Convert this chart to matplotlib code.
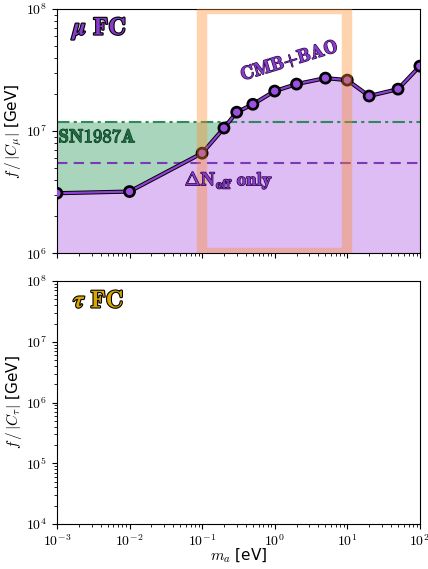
import numpy as np
import matplotlib
matplotlib.use("Agg")
import matplotlib.pyplot as plt
import matplotlib.patheffects as pe
from matplotlib.patches import Rectangle
from matplotlib.ticker import FuncFormatter, LogLocator

plt.rcParams['mathtext.fontset'] = 'cm'
plt.rcParams['font.family'] = ['DejaVu Sans']

# Axion mass grid [eV] and CMB+BAO bound on f/|C_mu| [GeV]
m_a = [1e-3, 1e-2, 0.1, 0.2, 0.3, 0.5, 1.0, 2.0, 5.0, 10.0, 20.0, 50.0, 100.0]
f_mu = [3.1e6, 3.2e6, 6.6e6, 1.06e7, 1.43e7, 1.66e7, 2.13e7, 2.43e7, 2.72e7,
        2.62e7, 1.94e7, 2.21e7, 3.41e7]

sn1987a = 1.19e7      # supernova bound
dneff_only = 5.5e6    # Delta N_eff only bound
band_lo, band_hi = 0.1, 10.0  # highlighted mass window

purple = '#9040D8'
fill_purple = '#DDBDF4'
green_line = '#2E8B57'
green_fill = '#A9D5BD'
gold = '#D9A800'

fig = plt.figure(figsize=(4.28, 5.69), dpi=100)
ax1 = fig.add_axes([0.133, 0.555, 0.848, 0.429])
ax2 = fig.add_axes([0.133, 0.079, 0.848, 0.427], sharex=ax1)

x = np.array(m_a)
y = np.array(f_mu)

# top panel: muon flavour-changing coupling
ax1.fill_between(x, 1e6, y, color=fill_purple, zorder=1, lw=0)
ax1.fill_between(x, y, sn1987a, where=y < sn1987a, interpolate=True,
                 color=green_fill, zorder=1, lw=0)
ax1.axhline(sn1987a, color=green_line, ls=(0, (6, 2, 1.5, 2)), lw=1.5, zorder=2)
ax1.axhline(dneff_only, color='#7A3AB8', ls=(0, (5, 3)), lw=1.5, zorder=2)
ax1.plot(x, y, color=purple, lw=1.6, marker='o', ms=6.2, mfc='#9C4FE0',
         mec='k', mew=0.9, zorder=3,
         path_effects=[pe.Stroke(linewidth=3.0, foreground='k'), pe.Normal()])
ax1.add_patch(Rectangle((band_lo, 1e6), band_hi - band_lo, 1e8 - 1e6,
                        fill=False, edgecolor='#FF8C2A', alpha=0.38, lw=7.5,
                        zorder=4))

stroke = [pe.withStroke(linewidth=1.6, foreground='k')]
ax1.text(0.045, 0.92, r'$\boldsymbol{\mu}\ \mathbf{FC}$', transform=ax1.transAxes,
         fontsize=17.5, color='#8A3BD0', ha='left', va='center',
         path_effects=stroke, zorder=6)
ax1.text(1.05e-3, 9.0e6, r'$\mathbf{SN1987A}$', fontsize=13.5, color='#1F6B42',
         ha='left', va='center', zorder=6,
         path_effects=[pe.withStroke(linewidth=0.8, foreground='#0B3A20')])
ax1.text(0.235, 3.95e6, r'$\mathbf{\Delta N_{eff}\ only}$', fontsize=13.5,
         color='#8A3BD0', ha='center', va='center', zorder=6,
         path_effects=[pe.withStroke(linewidth=1.0, foreground='#2A0A40')])
ax1.text(1.6, 3.8e7, r'$\mathbf{CMB{+}BAO}$', fontsize=13.5, color='#8A3BD0',
         ha='center', va='center', rotation=17, zorder=6,
         path_effects=[pe.withStroke(linewidth=1.0, foreground='#2A0A40')])

ax1.set_xscale('log')
ax1.set_yscale('log')
ax1.set_xlim(1e-3, 1e2)
ax1.set_ylim(1e6, 1e8)
ax1.set_ylabel(r'$f\,/\,|C_\mu|$ [GeV]', fontsize=11)
ax1.tick_params(labelbottom=False)

# bottom panel: tau flavour-changing coupling
ax2.set_yscale('log')
ax2.set_ylim(1e4, 1e8)
ax2.set_ylabel(r'$f\,/\,|C_\tau|$ [GeV]', fontsize=11)
ax2.set_xlabel(r'$m_a$ [eV]', fontsize=11)
ax2.text(0.045, 0.92, r'$\boldsymbol{\tau}\ \mathbf{FC}$', transform=ax2.transAxes,
         fontsize=17.5, color=gold, ha='left', va='center',
         path_effects=stroke, zorder=6)

pow_fmt = FuncFormatter(lambda v, pos: r'$10^{%d}$' % int(round(np.log10(v))))
for ax in (ax1, ax2):
    ax.xaxis.set_major_locator(LogLocator(base=10, numticks=10))
    ax.yaxis.set_major_locator(LogLocator(base=10, numticks=10))
    ax.xaxis.set_major_formatter(pow_fmt)
    ax.yaxis.set_major_formatter(pow_fmt)
    ax.tick_params(which='both', labelsize=10)
    ax.yaxis.set_label_coords(-0.09, 0.5)
ax2.xaxis.set_label_coords(0.5, -0.095)

fig.savefig('out.png', dpi=100)
